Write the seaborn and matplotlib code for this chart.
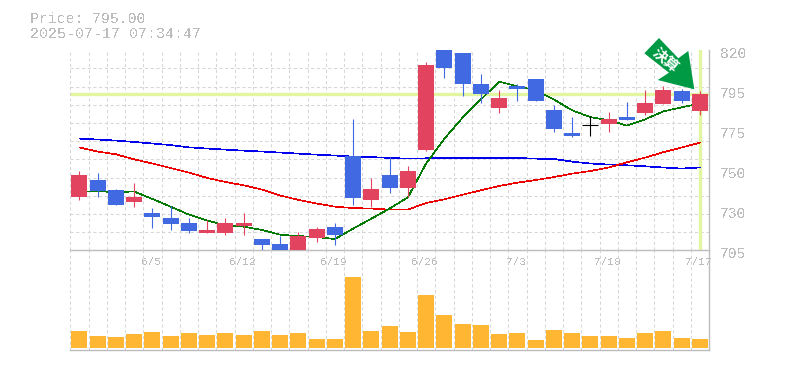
import matplotlib
matplotlib.use('Agg')
import matplotlib.pyplot as plt
from matplotlib.patches import Polygon
from matplotlib.transforms import Affine2D, ScaledTranslation
import numpy as np
import pandas as pd
import seaborn as sns

# candles: body top / body bottom / high / low, one entry per trading day
body_top = [748.1, 745.25, 739.5, 735.5, 726.3, 723.4, 720.5, 716.5, 720.5, 720.5, 711.3, 708.5,
            713.0, 717.0, 718.2, 759.0, 740.1, 748.1, 750.4, 811.4, 820.0, 818.3, 800.5, 792.4,
            799.3, 803.3, 785.5, 772.3, 777.3, 780.3, 781.5, 789.5, 797.0, 796.4, 795.0]
body_bot = [735.6, 738.9, 730.9, 732.6, 724.0, 720.0, 715.9, 714.8, 714.8, 718.8, 707.9, 705.0,
            705.0, 711.9, 713.6, 734.9, 733.75, 740.7, 740.7, 762.5, 809.7, 800.5, 794.7, 786.7,
            797.6, 790.7, 774.6, 770.6, 777.3, 777.5, 779.8, 783.8, 789.0, 790.7, 784.9]
high = [750.4, 749.3, 740.1, 743.5, 729.2, 730.3, 723.4, 722.3, 723.4, 726.3, 711.3, 713.0,
        715.4, 718.2, 720.5, 780.3, 746.4, 758.5, 753.3, 813.1, 820.0, 818.3, 806.2, 797.0,
        800.5, 803.3, 788.4, 781.5, 782.0, 784.4, 790.1, 797.0, 799.3, 797.6, 796.4]
low = [733.75, 735.5, 730.9, 729.7, 717.7, 716.5, 714.8, 714.8, 713.6, 713.6, 705.0, 705.0,
       705.0, 709.6, 707.9, 730.9, 729.7, 737.8, 735.5, 761.9, 803.9, 793.6, 789.5, 783.8,
       790.7, 790.7, 772.9, 770.0, 770.6, 772.9, 779.8, 782.6, 789.0, 789.5, 782.6]
# r = up, b = down, k = unchanged
kind = list('rbbrbbbrrrbbrrbbrbrrbbbrbbbbkrbrrbr')

ma_green = [738.9, 738.9, 738.5, 738.8, 734.5, 730.1, 725.5, 722.1, 719.4, 718.6, 716.7, 714.0,
            713.2, 712.6, 711.5, 717.5, 723.2, 729.0, 735.5, 754.9, 769.2, 781.3, 791.7, 802.0,
            799.3, 797.0, 791.7, 785.5, 781.6, 779.8, 776.7, 780.3, 784.9, 787.2, 789.4]
ma_red = [764.1, 761.8, 760.2, 757.3, 754.9, 752.3, 749.7, 746.6, 744.3, 742.4, 739.9, 736.5,
          734.0, 731.9, 730.1, 729.3, 729.0, 728.4, 728.4, 732.2, 734.3, 737.0, 739.5, 742.0,
          743.9, 745.4, 747.1, 749.1, 750.6, 752.6, 755.6, 758.3, 761.4, 764.1, 766.9]
ma_blue = [769.2, 768.7, 768.1, 767.3, 766.4, 765.5, 764.2, 763.5, 762.9, 762.3, 761.8, 761.2,
           760.6, 760.0, 759.5, 758.9, 758.6, 758.1, 757.7, 757.9, 758.1, 758.1, 758.1, 758.1,
           758.1, 757.7, 757.5, 756.0, 754.9, 754.3, 753.9, 753.3, 752.6, 752.0, 752.6]

volume = [17, 12, 11, 14, 16, 12, 15, 13, 15, 13, 17, 13, 15, 9, 9, 71, 17, 22,
          16, 53, 33, 24, 23, 14, 15, 8, 18, 15, 12, 12, 10, 15, 17, 10, 9]

x_tick_pos = [4, 9, 14, 19, 24, 29, 34]
x_tick_labels = ['6/5', '6/12', '6/19', '6/26', '7/3', '7/10', '7/17']
y_tick_pos = [705, 728, 751, 774, 797, 820]
y_tick_labels = ['705', '730', '750', '775', '795', '820']
last_price = 795
title_lines = ['Price: 795.00', '2025-07-17 07:34:47']
sign_text = '決算'

W, H = 785, 370
GREY = '#bcbcbc'
GRID = '#d6d6d6'
UP = '#e2445f'
DOWN = '#4169e1'
LIME = '#e2f5a0'
MONO = 'Liberation Mono'
DASH = (0, (3, 2.5))

sns.set_style('white')
plt.rcParams['text.antialiased'] = False
fig = plt.figure(figsize=(W / 100, H / 100), dpi=100)
ax = fig.add_axes([70.3 / W, (H - 250.3) / H, 638.7 / W, 200 / H])
ax2 = fig.add_axes([70.3 / W, (H - 350.3) / H, 638.7 / W, 100 / H], sharex=ax)
px = Affine2D().scale(1 / W, -1 / H).translate(0, 1) + fig.transFigure

idx = np.arange(len(volume))
colors = {'r': UP, 'b': DOWN, 'k': 'black'}
df = pd.DataFrame({'i': idx, 'green': ma_green, 'red': ma_red, 'blue': ma_blue, 'vol': volume})

for a in (ax, ax2):
    a.set_xlim(-0.5, 34.5)
    a.set_xticks(idx[:-1] + 0.5, minor=True)
    a.grid(False)
    a.grid(which='minor', axis='x', color=GRID, lw=0.75, ls=DASH)
    a.set_axisbelow(True)
    a.tick_params(which='both', length=0)
    a.patch.set_alpha(0)
    a.spines['left'].set_visible(False)
    a.spines['top'].set_visible(False)
    for s in ('right', 'bottom'):
        a.spines[s].set_color(GREY)
        a.spines[s].set_linewidth(1.0)

ax.set_ylim(705, 820)
ax.set_yticks(np.linspace(705, 820, 12), minor=True)
ax.grid(which='minor', axis='y', color=GRID, lw=0.75, ls=DASH)
# left edges are dashed only
ax.axvline(-0.5, color=GRID, lw=0.75, ls=DASH, clip_on=False)
ax2.axvline(-0.5, color=GRID, lw=0.75, ls=DASH, clip_on=False)

ax.axhline(last_price, color=LIME, lw=2.4, zorder=1.5)
ax.axvline(idx[-1], color=LIME, lw=2.4, zorder=1.5)

sns.lineplot(data=df, x='i', y='blue', ax=ax, color='#0000ee', lw=0.45, zorder=2, antialiased=False)
sns.lineplot(data=df, x='i', y='red', ax=ax, color='#ee0000', lw=0.45, zorder=2, antialiased=False)
sns.lineplot(data=df, x='i', y='green', ax=ax, color='#007a00', lw=0.45, zorder=2, antialiased=False)

bar_w = 16 / 18.25
for i in idx:
    c = colors[kind[i]]
    ax.vlines(i, low[i], high[i], color=c, lw=0.8, zorder=3)
    if kind[i] == 'k':
        ax.hlines(body_top[i], i - bar_w / 2, i + bar_w / 2, color=c, lw=0.8, zorder=3)
    else:
        ax.bar(i, body_top[i] - body_bot[i], bottom=body_bot[i], width=bar_w, color=c, lw=0, zorder=3)

sns.barplot(data=df, x='i', y='vol', ax=ax2, native_scale=True, color='#ffb733', width=bar_w,
            saturation=1, lw=0, zorder=3)
ax2.set_xlim(-0.5, 34.5)
ax2.set_ylim(-2.2, 97.8)
ax2.set_yticks([])
ax2.tick_params(axis='x', labelbottom=False)

ax.set_xlabel('')
ax.set_ylabel('')
ax2.set_xlabel('')
ax2.set_ylabel('')

ax.set_xticks(x_tick_pos)
ax.set_xticklabels(x_tick_labels, family=MONO, fontsize=8, color=GREY)
ax.tick_params(axis='x', pad=4.5, labelbottom=True)
shift_x = ScaledTranslation(-1.5 / 100, 0, fig.dpi_scale_trans)
for t in ax.get_xticklabels():
    t.set_zorder(6)
    t.set_transform(t.get_transform() + shift_x)

ax.set_yticks(y_tick_pos)
ax.set_yticklabels(y_tick_labels, family=MONO, fontsize=10.5, color=GREY)
ax.yaxis.tick_right()
ax.tick_params(axis='y', which='both', length=0, pad=8)
shift = ScaledTranslation(0, -2 / 100, fig.dpi_scale_trans)
for t in ax.get_yticklabels():
    t.set_transform(t.get_transform() + shift)

fig.text(30, 23, title_lines[0], transform=px, family=MONO, fontsize=10.7, color=GREY)
fig.text(30, 38, title_lines[1], transform=px, family=MONO, fontsize=10.8, color=GREY)

arrow = [(659, 38), (644.3, 53.3), (669, 72.7), (657.7, 80), (694.3, 89.3), (688.3, 51), (678.3, 58.3)]
fig.add_artist(Polygon(arrow, closed=True, transform=px, facecolor='#009a44', edgecolor='none', zorder=10))
fig.text(666, 60, sign_text, transform=px, family=['Noto Sans CJK JP', 'DejaVu Sans'], fontsize=10.5,
         fontweight='bold', color='white', rotation=-40, rotation_mode='anchor',
         ha='center', va='center', zorder=11, antialiased=True)

fig.savefig('out.png', dpi=100)
